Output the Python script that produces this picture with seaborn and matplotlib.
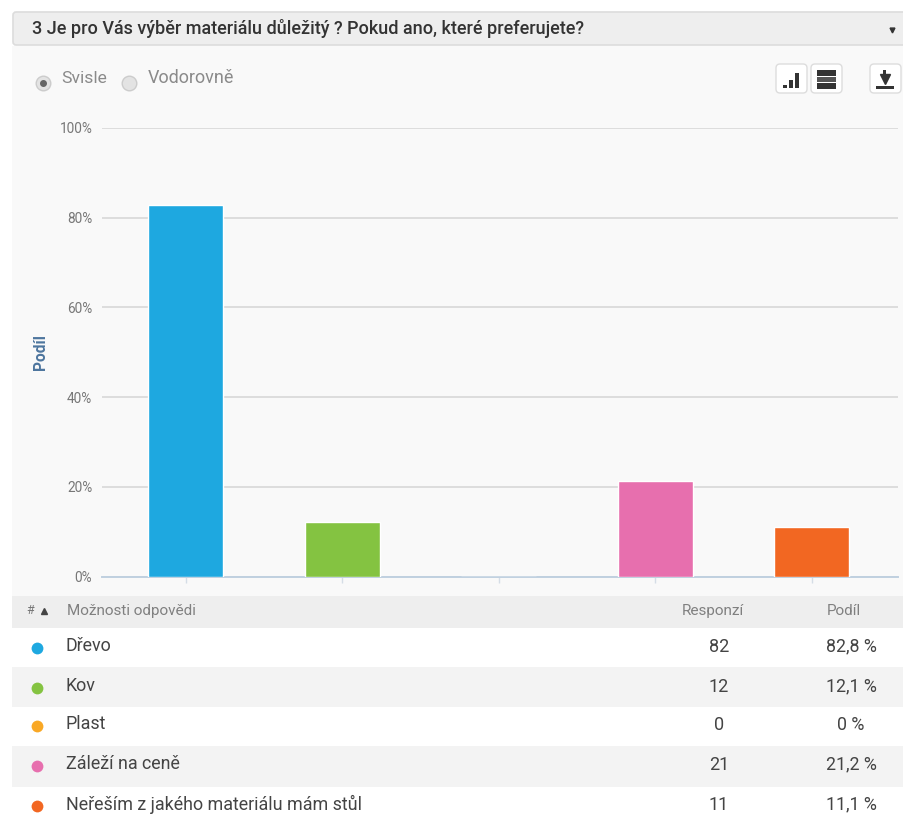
import pandas as pd
import matplotlib
matplotlib.use("Agg")
import matplotlib.pyplot as plt
from matplotlib.patches import Rectangle, FancyBboxPatch
import seaborn as sns

sns.set_theme(style="white")
plt.rcParams["font.family"] = ["Roboto", "DejaVu Sans"]

# --- Data ---
title = "3 Je pro Vás výběr materiálu důležitý ? Pokud ano, které preferujete?"
categories = ["Dřevo", "Kov", "Plast", "Záleží na ceně", "Neřeším z jakého materiálu mám stůl"]
responses = [82, 12, 0, 21, 11]
shares = [82.8, 12.1, 0, 21.2, 11.1]
share_labels = ["82,8 %", "12,1 %", "0 %", "21,2 %", "11,1 %"]
colors = ["#1ea8e0", "#84c341", "#f9a825", "#e76fae", "#f26722"]
y_ticks = [0, 20, 40, 60, 80, 100]

W, H = 904, 823
fig = plt.figure(figsize=(W / 100, H / 100), dpi=100, facecolor="white")

# --- Page layer in pixel coordinates ---
bg = fig.add_axes([0, 0, 1, 1])
bg.set_xlim(0, W)
bg.set_ylim(H, 0)
bg.axis("off")

bg.add_patch(Rectangle((12, 46), W - 12, 550, color="#f9f9f9", lw=0))
bg.add_patch(FancyBboxPatch((13, 12), W, 33, boxstyle="round,pad=0,rounding_size=3",
                            fc="#eeeeee", ec="#dcdcdc", lw=1.2))
bg.text(32, 28.5, title, fontsize=13, fontweight="medium", color="#333333", va="center")
bg.plot([892], [30], marker="v", ms=3.5, color="#333333")

# radio buttons
bg.plot([43], [83], "o", ms=10.5, mfc="#e3e3e3", mec="#cccccc")
bg.plot([43], [83], "o", ms=4, color="#666666")
bg.plot([129], [83], "o", ms=10.5, mfc="#e3e3e3", mec="#cccccc")
bg.text(61, 78, "Svisle", fontsize=12.6, color="#8a8a8a", va="center")
bg.text(148, 78, "Vodorovně", fontsize=13, color="#8a8a8a", va="center")

# toolbar buttons
for bx in [776, 811, 870]:
    bg.add_patch(FancyBboxPatch((bx, 64), 31, 29, boxstyle="round,pad=0,rounding_size=4",
                                fc="white", ec="#dddddd", lw=1))
for bx, top in [(783, 85), (789, 80), (795, 73)]:
    bg.add_patch(Rectangle((bx, top), 4, 88 - top, color="#333333", lw=0))
for top, hgt, col in [(70, 6, "#333333"), (77, 5, "#555555"), (83, 6, "#333333")]:
    bg.add_patch(Rectangle((817, top), 19, hgt, color=col, lw=0))
bg.add_patch(Rectangle((876, 86), 18, 2.5, color="#333333", lw=0))
bg.plot([885], [79], marker="v", ms=7, color="#333333")
bg.add_patch(Rectangle((883.5, 70), 3, 7, color="#333333", lw=0))

# --- Bars ---
ax = fig.add_axes([102 / W, 1 - 576.5 / H, 796 / W, 448.5 / H])
ax.patch.set_alpha(0)
df = pd.DataFrame({"kategorie": categories, "podil": shares})
sns.barplot(data=df, x="kategorie", y="podil", hue="kategorie", palette=colors,
            order=categories, hue_order=categories, legend=False, width=0.48,
            saturation=1, ax=ax, zorder=3)
ax.set_xlim(-0.536, 4.55)
ax.set_ylim(0, 100)
ax.set_yticks(y_ticks)
ax.set_yticklabels([f"{t}%" for t in y_ticks], fontsize=9.8, color="#777777")
ax.tick_params(axis="y", length=0, pad=7)
ax.tick_params(axis="x", length=4, width=1, color="#d5dde6", bottom=True, labelbottom=False)
ax.set_xlabel("")
ax.set_ylabel("Podíl", fontsize=11.2, fontweight="bold", color="#4d759e", labelpad=8)
ax.grid(axis="y", color="#d8d8d8", lw=1.2, zorder=0)
sns.despine(ax=ax, left=True, right=True, top=True)
ax.spines["bottom"].set_color("#c0d0e0")
ax.spines["bottom"].set_linewidth(1.4)

# --- Table ---
bg.add_patch(Rectangle((12, 596), W - 12, 32, color="#eeeeee", lw=0))
bg.text(26, 611, "#", fontsize=9, color="#777777", va="center")
bg.plot([44], [610.5], marker="^", ms=4, color="#444444")
bg.text(67, 611, "Možnosti odpovědi", fontsize=11, color="#808080", va="center")
bg.text(713, 611, "Responzí", fontsize=11, color="#808080", va="center", ha="center")
bg.text(844, 611, "Podíl", fontsize=11, color="#808080", va="center", ha="center")

row_tops = [628, 667, 707, 746, 787]
row_bottoms = [667, 707, 746, 787, 823]
row_text_y = [646, 686, 724, 764, 804]
for i, cat in enumerate(categories):
    if i % 2 == 1:
        bg.add_patch(Rectangle((12, row_tops[i]), W - 12, row_bottoms[i] - row_tops[i],
                               color="#f3f3f3", lw=0))
    bg.plot([37], [row_text_y[i] + 2], "o", ms=8.5, color=colors[i], mew=0)
    bg.text(66, row_text_y[i], cat, fontsize=12.9, color="#444444", va="center")
    bg.text(719, row_text_y[i] + 0.5, str(responses[i]), fontsize=13, color="#444444",
            va="center", ha="center")
    bg.text(851, row_text_y[i] + 0.5, share_labels[i], fontsize=12.8, color="#444444",
            va="center", ha="center")

fig.savefig("out.png", dpi=100)
